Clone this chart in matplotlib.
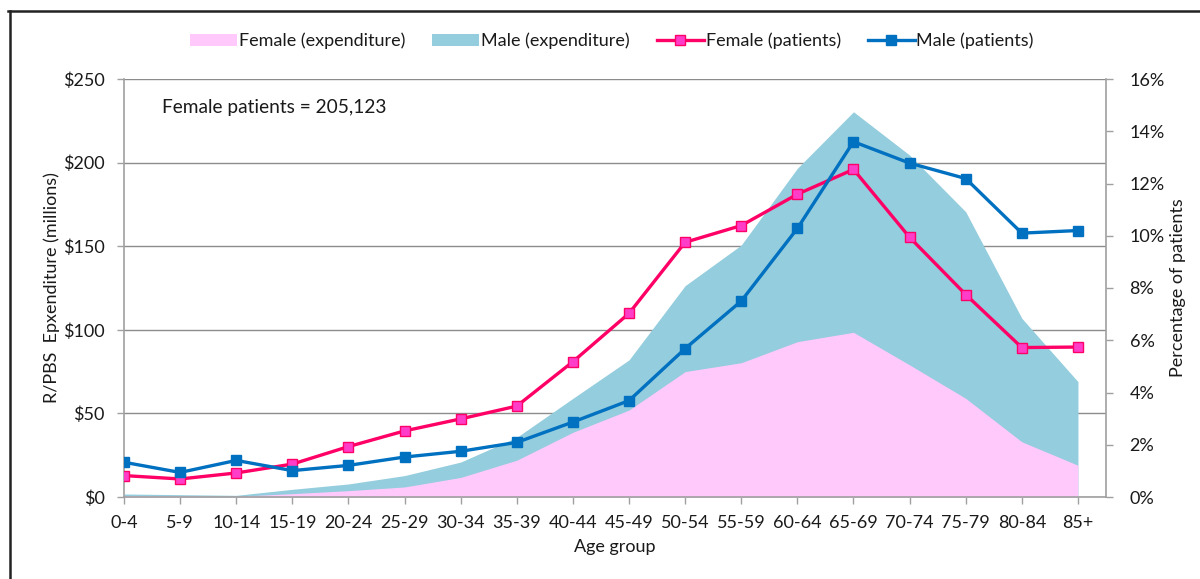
import matplotlib
matplotlib.use("Agg")
import matplotlib.pyplot as plt
from matplotlib.lines import Line2D
from matplotlib.patches import Patch
from matplotlib.ticker import FuncFormatter

plt.rcParams['font.family'] = ['Lato', 'DejaVu Sans']

age_groups = ["0-4", "5-9", "10-14", "15-19", "20-24", "25-29", "30-34", "35-39",
              "40-44", "45-49", "50-54", "55-59", "60-64", "65-69", "70-74",
              "75-79", "80-84", "85+"]
female_expenditure = [0.8, 0.6, 0.4, 2.0, 3.8, 6.0, 11.7, 22.0, 38.7, 52.0,
                      75.0, 80.3, 92.9, 98.5, 79.0, 59.0, 33.0, 19.0]
male_expenditure = [1.8, 1.4, 1.0, 4.6, 7.8, 12.8, 20.9, 35.7, 59.0, 82.0,
                    126.4, 150.7, 196.6, 230.4, 204.5, 170.6, 106.9, 69.0]
female_patients = [0.82, 0.69, 0.92, 1.26, 1.93, 2.53, 2.99, 3.48, 5.18, 7.03,
                   9.75, 10.39, 11.59, 12.54, 9.94, 7.75, 5.72, 5.74]
male_patients = [1.33, 0.94, 1.40, 1.01, 1.21, 1.53, 1.75, 2.09, 2.87, 3.69,
                 5.68, 7.50, 10.28, 13.60, 12.78, 12.19, 10.10, 10.20]

PINK_AREA = "#FFC9FC"
BLUE_AREA = "#94CDDD"
PINK_LINE = "#FF0066"
PINK_MARK = "#FF3DC8"
BLUE_LINE = "#0070C0"
GRID = "#8C8C8C"
TXT = "#1a1a1a"
FS = 13

fig = plt.figure(figsize=(12, 5.79), dpi=100)
ax = fig.add_axes([124/1200, 1-497/579, (1106-124)/1200, (497-79)/579])
x = list(range(len(age_groups)))

ax.fill_between(x, 0, male_expenditure, color=BLUE_AREA, lw=0, zorder=1)
ax.fill_between(x, 0, female_expenditure, color=PINK_AREA, lw=0, zorder=2)
ax.set_ylim(0, 250)
ax.set_xlim(0, 17.5)
ax.set_yticks([0, 50, 100, 150, 200, 250])
ax.yaxis.set_major_formatter(FuncFormatter(lambda v, p: f"${int(v)}"))
ax.set_xticks(x)
ax.set_xticklabels(age_groups)
ax.grid(axis='y', color=GRID, lw=1.0, zorder=0)
ax.set_axisbelow(True)
for s in ['top', 'right']:
    ax.spines[s].set_visible(False)
for s in ['left', 'bottom']:
    ax.spines[s].set_color("#A0A0A0")
    ax.spines[s].set_linewidth(1.2)
ax.tick_params(axis='both', colors="#A0A0A0", labelcolor=TXT, labelsize=FS,
               length=5, width=1)
ax.tick_params(axis='x', pad=8)
ax.tick_params(axis='y', pad=9)
ax.set_ylabel("R/PBS  Epxenditure (millions)", fontsize=FS, color=TXT, labelpad=2)
ax.set_xlabel("Age group", fontsize=FS, color=TXT, labelpad=6)

ax2 = ax.twinx()
ax2.plot(x, female_patients, color=PINK_LINE, lw=2.4, marker='s', ms=7.5,
         mfc=PINK_MARK, mec=PINK_LINE, mew=1.0, zorder=3)
ax2.plot(x, male_patients, color=BLUE_LINE, lw=2.4, marker='s', ms=7.5,
         mfc=BLUE_LINE, mec=BLUE_LINE, zorder=4)
ax2.set_ylim(0, 16)
ax2.set_yticks(range(0, 17, 2))
ax2.yaxis.set_major_formatter(FuncFormatter(lambda v, p: f"{int(v)}%"))
for s in ['top', 'left', 'bottom']:
    ax2.spines[s].set_visible(False)
ax2.spines['right'].set_color("#A0A0A0")
ax2.spines['right'].set_linewidth(1.2)
ax2.tick_params(axis='y', colors="#A0A0A0", labelcolor=TXT, labelsize=FS,
                length=5, width=1, pad=12)
ax2.set_ylabel("Percentage of patients", fontsize=FS, color=TXT, labelpad=4)

ax.text(162/1200, 1-107/579, "Female patients = 205,123", transform=fig.transFigure,
        fontsize=13.8, color=TXT, va='center', ha='left')

handles = [Patch(facecolor=PINK_AREA, edgecolor='none'),
           Patch(facecolor=BLUE_AREA, edgecolor='none'),
           Line2D([], [], color=PINK_LINE, lw=2.4, marker='s', ms=7.5,
                  mfc=PINK_MARK, mec=PINK_LINE),
           Line2D([], [], color=BLUE_LINE, lw=2.4, marker='s', ms=7.5,
                  mfc=BLUE_LINE, mec=BLUE_LINE)]
labels = ["Female (expenditure)", "Male (expenditure)", "Female (patients)", "Male (patients)"]
fig.legend(handles, labels, loc='center', bbox_to_anchor=(612/1200, 1-41/579), ncol=4,
           frameon=False, fontsize=FS, handlelength=2.6, handletextpad=0.1,
           columnspacing=1.5, labelcolor=TXT)

# chart border
fig.add_artist(Line2D([8/1200, 1], [1-10.5/579, 1-10.5/579], color="#222222", lw=1.8,
                      transform=fig.transFigure))
fig.add_artist(Line2D([9.5/1200, 9.5/1200], [0, 1-10.5/579], color="#222222", lw=1.8,
                      transform=fig.transFigure))

fig.savefig("out.png", dpi=100)
